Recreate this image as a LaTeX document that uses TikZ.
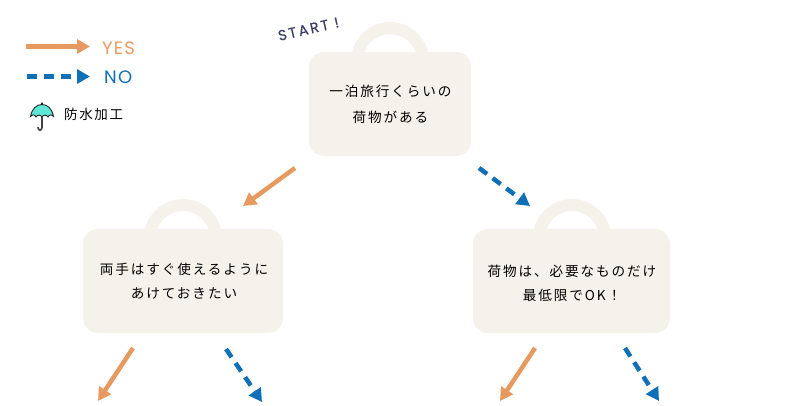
\documentclass[tikz,border=0pt]{standalone}
\usepackage{fontspec}
\usetikzlibrary{arrows.meta}
\newfontfamily\jp[LetterSpace=14]{Noto Sans CJK JP}
\newfontfamily\jpleg[LetterSpace=12]{Noto Sans CJK JP}
\newfontfamily\lat[LetterSpace=7]{Poppins}
\newfontfamily\latst[LetterSpace=15,FakeBold=0.4]{Poppins}
\definecolor{bagc}{HTML}{F4F2EA}
\definecolor{yesc}{HTML}{E79A5F}
\definecolor{noc}{HTML}{0F70B7}
\definecolor{startc}{HTML}{3A4066}
\definecolor{teal}{HTML}{5FE6D6}
\tikzset{
  x=1pt,y=-1pt,
  bagbody/.style={fill=bagc,rounded corners=15pt,draw=none,minimum height=104pt,inner sep=0pt},
  baglabel/.style={inner sep=0pt,text=black,font=\jp\fontsize{13.6}{13.6}\selectfont},
  yesline/.style={draw=yesc,line width=4.5pt,-{Triangle[length=13pt,width=14pt,fill=yesc]}},
  noline/.style={draw=noc,line width=4.5pt,dash pattern=on 10pt off 7pt,-{Triangle[length=13pt,width=14pt,fill=noc]}},
}
\newcommand{\baghandle}[2]{\fill[bagc,even odd rule] (#1,#2) circle[radius=39pt] (#1,#2) circle[radius=27pt];}
\begin{document}
\begin{tikzpicture}
\useasboundingbox (0,0) rectangle (800,405);
% bags
\baghandle{390}{61}
\baghandle{183}{238}
\baghandle{572}{238}
\node[bagbody,minimum width=162pt] (top) at (390,104) {};
\node[bagbody,minimum width=200pt] (left) at (183,281) {};
\node[bagbody,minimum width=197pt] (right) at (571.5,281) {};
\node[baglabel] (t1) at (390.5,91.5) {一泊旅行くらいの};
\node[baglabel] (t2) at (390.5,117.5) {荷物がある};
\node[baglabel] (l1) at (184,269) {両手はすぐ使えるように};
\node[baglabel] (l2) at (184,293) {あけておきたい};
\node[baglabel] (r1) at (572,271) {荷物は、必要なものだけ};
\node[baglabel] (r2) at (572,295) {最低限でOK！};
% free ends
\coordinate (a1) at (295,168); \coordinate (a2) at (243,206);
\coordinate (b1) at (479,168); \coordinate (b2) at (530,206);
\coordinate (c1) at (133,348); \coordinate (c2) at (98,401);
\coordinate (d1) at (226,349); \coordinate (d2) at (262,402);
\coordinate (e1) at (535,348); \coordinate (e2) at (500,401);
\coordinate (f1) at (625,348); \coordinate (f2) at (659,401);
\coordinate (g1) at (26,46.5); \coordinate (g2) at (90,46.5);
\coordinate (h1) at (27,76.5); \coordinate (h2) at (90,76.5);
\draw[yesline] (a1) -- (a2);
\draw[noline] (b1) -- (b2);
\draw[yesline] (c1) -- (c2);
\draw[noline] (d1) -- (d2);
\draw[yesline] (e1) -- (e2);
\draw[noline] (f1) -- (f2);
\draw[yesline] (g1) -- (g2);
\draw[noline] (h1) -- (h2);
% labels
\node[anchor=west,inner sep=0pt,text=yesc,font=\lat\fontsize{18}{19}\selectfont] (yes) at (102,48.5) {YES};
\node[anchor=west,inner sep=0pt,text=noc,font=\lat\fontsize{18}{19}\selectfont] (no) at (104,77.5) {NO};
\node[rotate=13,inner sep=0pt,text=startc,font=\latst\fontsize{14.5}{16}\selectfont] (start) at (308.5,29) {START !};
\node[anchor=west,inner sep=0pt,text=black,font=\jpleg\fontsize{13.5}{15}\selectfont] (wp) at (64,114.5) {防水加工};
% umbrella
\draw[black!85,line width=0.9pt,fill=teal] (30.5,116.5) .. controls (32,108.5) and (36.5,104.5) .. (42,104.5) .. controls (47.5,104.5) and (52,108.5) .. (53.5,116.5)
  .. controls (51.5,114.3) and (49.5,114.3) .. (48,117) .. controls (46,114.5) and (44,114.5) .. (42,117) .. controls (40,114.5) and (38,114.5) .. (36,117) .. controls (34.5,114.3) and (32.5,114.3) .. (30.5,116.5) -- cycle;
\draw[black!85,line width=1.1pt,line cap=round] (42,103) -- (42,104.5);
\draw[black!75,line width=1.7pt,line cap=round] (42,117) -- (42,127.5) .. controls (42,131) and (38,131) .. (38,127.5);
\end{tikzpicture}
\end{document}
